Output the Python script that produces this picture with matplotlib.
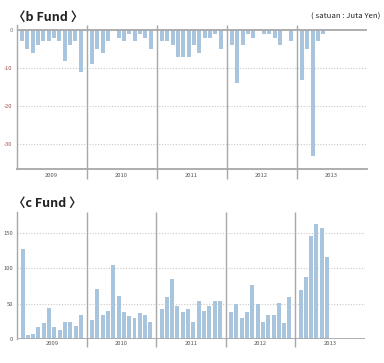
import numpy as np
import matplotlib
matplotlib.use("Agg")
import matplotlib.pyplot as plt

plt.rcParams['font.family'] = ['Noto Sans CJK JP', 'DejaVu Sans']

years = ['2009', '2010', '2011', '2012', '2013']

# b Fund, monthly (million yen), Jan 2009 - May 2013
b_fund = [-3, -5, -6, -4, -3, -3, -2, -3, -8, -4, -3, -11,
          -9, -5, -6, -3, 0, -2, -3, -1, -3, -1, -2, -5,
          -3, -3, -4, -7, -7, -7, -4, -6, -2, -2, -1, -5,
          -4, -14, -4, -1, -2, 0, -1, -1, -2, -4, 0, -3,
          -13, -5, -33, -3, -1]

# c Fund, monthly, Jan 2009 - Jun 2013
c_fund = [128, 5, 6, 16, 22, 44, 17, 12, 24, 24, 18, 34,
          27, 71, 34, 40, 105, 61, 38, 32, 29, 37, 34, 24,
          42, 59, 85, 46, 38, 43, 24, 54, 40, 47, 54, 54,
          38, 50, 30, 38, 77, 50, 24, 34, 34, 51, 23, 60,
          70, 88, 146, 163, 158, 117]

b_ticks = [0, -10, -20, -30]
c_ticks = [0, 50, 100, 150]

bar_color = '#a9c5de'
line_gray = '#a8a8a8'
grid_gray = '#c8c8c8'

fig = plt.figure(figsize=(3.84, 3.63), dpi=100)
ax1 = fig.add_axes([0.0435, 0.5336, 0.9115, 0.3975])
ax2 = fig.add_axes([0.045, 0.067, 0.905, 0.348])


def month_pos(n):
    # bars sit inside each year slot with a small margin on both sides
    idx = np.arange(n)
    return 12 * (idx // 12) + 0.91 + (idx % 12) * 0.916


def style_axis(ax, values, ticks, ylim, tick_colors, zero_lw):
    x = month_pos(len(values))
    ax.bar(x, values, width=0.69, color=bar_color, zorder=2)
    ax.set_xlim(0, 12 * len(years))
    ax.set_ylim(*ylim)
    for s in ['top', 'right', 'bottom']:
        ax.spines[s].set_visible(False)
    ax.spines['left'].set_color(line_gray)
    ax.spines['left'].set_linewidth(1.0)
    ax.set_xticks([])
    ax.set_yticks(ticks)
    ax.set_yticklabels([str(t) for t in ticks], fontsize=4.2)
    for lab, c in zip(ax.get_yticklabels(), tick_colors):
        lab.set_color(c)
    ax.tick_params(axis='y', length=0, pad=3)
    for t in ticks:
        if t != 0:
            ax.axhline(t, color=grid_gray, lw=0.8, ls=(0, (1, 1.5)), zorder=1)
    ax.axhline(0, color=line_gray, lw=zero_lw, zorder=3)
    # year dividers, sticking out below the axis
    bounds = [12 * i for i in range(1, len(years))]
    ax.vlines(bounds, -0.065, 1, transform=ax.get_xaxis_transform(),
              color=line_gray, lw=1.0, clip_on=False, zorder=1)
    for i, yr in enumerate(years):
        ax.text(12 * i + 6, -0.04, yr, transform=ax.get_xaxis_transform(),
                ha='center', va='center', fontsize=4.2, color='#555555')


style_axis(ax1, b_fund, b_ticks, (-36.5, 1.3),
           ['#777777', '#a05050', '#a05050', '#a05050'], 1.3)
# bottom axis line of b Fund chart
ax1.axhline(-36.5, color=line_gray, lw=1.3, clip_on=False)

style_axis(ax2, c_fund, c_ticks, (0, 180),
           ['#555555'] * 4, 2.0)

fig.text(13 / 384, 1 - 17 / 363, '〈b Fund 〉', fontsize=9, fontweight='bold',
         ha='left', va='center', color='#222222')
fig.text(380 / 384, 1 - 17 / 363, '( satuan : Juta Yen)', fontsize=5.6,
         ha='right', va='center', color='#222222')
fig.text(13 / 384, 1 - 203 / 363, '〈c Fund 〉', fontsize=9, fontweight='bold',
         ha='left', va='center', color='#222222')

fig.savefig('out.png', dpi=100)
